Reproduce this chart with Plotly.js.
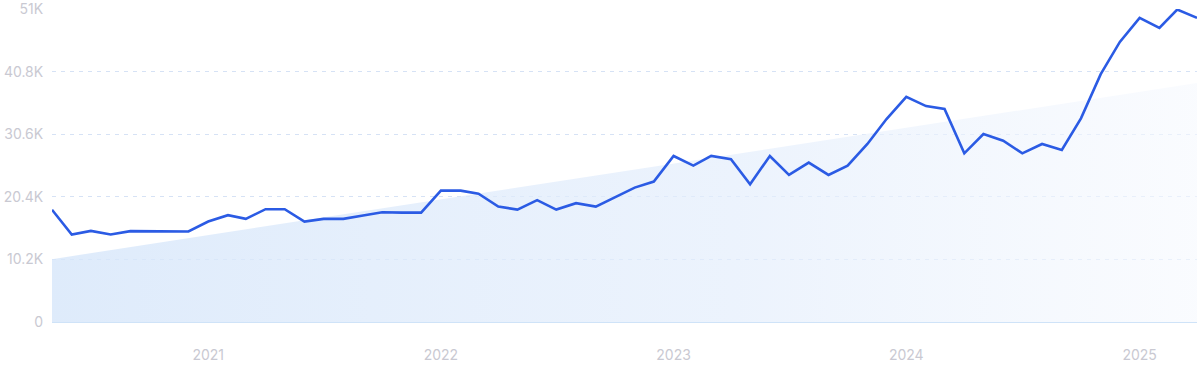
<!DOCTYPE html>
<html>
<head>
<meta charset="utf-8">
<script src="https://cdn.plot.ly/plotly-3.0.1.min.js"></script>
<style>
  html, body { margin: 0; padding: 0; background: #fff; }
  #chart { width: 1200px; height: 371px; }
</style>
</head>
<body>
<div id="chart"></div>
<script>
// Monthly values, May 2020 – April 2025
const months = [
  '2020-05-01','2020-06-01','2020-07-01','2020-08-01','2020-09-01','2020-10-01','2020-11-01','2020-12-01',
  '2021-01-01','2021-02-01','2021-03-01','2021-04-01','2021-05-01','2021-06-01','2021-07-01','2021-08-01','2021-09-01','2021-10-01','2021-11-01','2021-12-01',
  '2022-01-01','2022-02-01','2022-03-01','2022-04-01','2022-05-01','2022-06-01','2022-07-01','2022-08-01','2022-09-01','2022-10-01','2022-11-01','2022-12-01',
  '2023-01-01','2023-02-01','2023-03-01','2023-04-01','2023-05-01','2023-06-01','2023-07-01','2023-08-01','2023-09-01','2023-10-01','2023-11-01','2023-12-01',
  '2024-01-01','2024-02-01','2024-03-01','2024-04-01','2024-05-01','2024-06-01','2024-07-01','2024-08-01','2024-09-01','2024-10-01','2024-11-01','2024-12-01',
  '2025-01-01','2025-02-01','2025-03-01','2025-04-01'
];
const values = [
  18300, 14260, 14860, 14260, 14810, 14810, 14810, 14750,
  16380, 17410, 16810, 18390, 18390, 16380, 16810, 16810, 17350, 17900, 17840, 17840,
  21420, 21420, 20930, 18820, 18330, 19860, 18330, 19370, 18820, 20340, 21910, 22890,
  27070, 25490, 27070, 26530, 22460, 27070, 23975, 25980, 23975, 25490, 29020, 33090,
  36720, 35200, 34720, 27500, 30650, 29560, 27500, 29020, 28040, 33200, 40410, 45670,
  49580, 47950, 50940, 49580
];
// Trend band endpoints
const trendX = ['2020-05-01', '2025-04-01'];
const trendY = [10250, 38950];

const yTickVals = [0, 10200, 20400, 30600, 40800, 51000];
const yTickText = ['0', '10.2K', '20.4K', '30.6K', '40.8K', '51K'];
const xTickVals = ['2021-01-01', '2022-01-01', '2023-01-01', '2024-01-01', '2025-01-01'];
const xTickText = ['2021', '2022', '2023', '2024', '2025'];

const traces = [
  {
    x: trendX, y: trendY, type: 'scatter', mode: 'lines',
    line: { width: 0, color: 'rgba(0,0,0,0)' },
    fill: 'tozeroy',
    fillgradient: {
      type: 'horizontal',
      colorscale: [[0, 'rgba(214,230,250,0.8)'], [0.6, 'rgba(228,238,252,0.7)'], [1, 'rgba(246,249,254,0.6)']]
    },
    hoverinfo: 'skip', showlegend: false
  },
  {
    x: months, y: values, type: 'scatter', mode: 'lines',
    line: { color: '#2b5be4', width: 2.6, shape: 'linear' },
    showlegend: false
  }
];

const tickFont = { family: 'Inter, "Noto Sans", sans-serif', size: 14, color: '#c9c9d2' };

const layout = {
  width: 1200, height: 371,
  margin: { l: 52, r: 3, t: 9, b: 49 },
  paper_bgcolor: '#ffffff', plot_bgcolor: '#ffffff',
  showlegend: false,
  xaxis: {
    type: 'date',
    range: ['2020-05-01', '2025-04-01'],
    tickvals: xTickVals, ticktext: xTickText,
    showgrid: false, zeroline: false,
    showline: true, linecolor: '#cfe3f8', linewidth: 1,
    ticks: 'outside', ticklen: 20, tickcolor: 'rgba(0,0,0,0)',
    tickfont: tickFont
  },
  yaxis: {
    range: [0, 51030],
    tickvals: yTickVals, ticktext: yTickText,
    showgrid: true, gridcolor: '#d6e2f5', griddash: '4px,5px', gridwidth: 1,
    zeroline: false, showline: false,
    ticks: 'outside', ticklen: 5, tickcolor: 'rgba(0,0,0,0)',
    tickfont: tickFont
  }
};

Plotly.newPlot('chart', traces, layout, { displayModeBar: false, staticPlot: true });
</script>
</body>
</html>
